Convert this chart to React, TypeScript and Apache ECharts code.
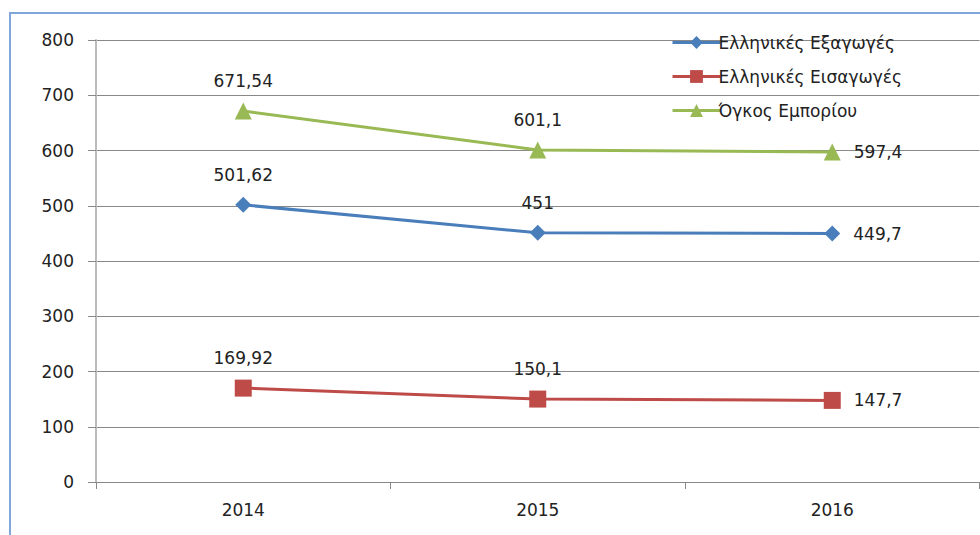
import React, { useEffect, useRef } from "react";
import * as echarts from "echarts";

const categories = ["2014", "2015", "2016"];
const exportsGR = [501.62, 451, 449.7];
const importsGR = [169.92, 150.1, 147.7];
const tradeVolume = [671.54, 601.1, 597.4];
const seriesNames = ["Ελληνικές Εξαγωγές", "Ελληνικές Εισαγωγές", "Όγκος Εμπορίου"];
const yTicks = { min: 0, max: 800, interval: 100 };

const FONT = "'DejaVu Sans', Verdana, sans-serif";
const FS = 17;
const fmt = (v: number) => String(v).replace(".", ",");

export default function App() {
  const ref = useRef<HTMLDivElement>(null);
  useEffect(() => {
    if (!ref.current) return;
    const chart = echarts.init(ref.current, undefined, { renderer: "svg" });
    const mk = (vals: number[]) =>
      vals.map((v, i) => ({
        value: v,
        label: i === vals.length - 1 ? { position: "right", distance: 13 } : { position: "top", distance: 13 },
      }));
    const common = (name: string, vals: number[], color: string, symbol: string, size: number) => ({
      name,
      type: "line",
      data: mk(vals),
      symbol,
      symbolSize: size,
      lineStyle: { color, width: 3 },
      itemStyle: { color },
      label: {
        show: true,
        formatter: (p: any) => fmt(p.value),
        color: "#222",
        fontSize: FS,
        fontFamily: FONT,
      },
    });
    chart.setOption({
      animation: false,
      backgroundColor: "#fff",
      grid: { left: 96, top: 40, right: 0.5, bottom: 53 },
      legend: {
        orient: "vertical",
        left: 666,
        top: 29,
        itemWidth: 48,
        itemHeight: 16,
        itemGap: 17,
        lineStyle: { width: 3 },
        textStyle: { fontSize: FS, fontFamily: FONT, color: "#222", padding: [0, 0, 0, -7] },
        data: seriesNames,
      },
      xAxis: {
        type: "category",
        data: categories,
        boundaryGap: true,
        axisLine: { lineStyle: { color: "#888", width: 1 } },
        axisTick: { show: true, length: 7, lineStyle: { color: "#888" } },
        axisLabel: { fontSize: FS, fontFamily: FONT, color: "#222", margin: 19 },
      },
      yAxis: {
        type: "value",
        min: yTicks.min,
        max: yTicks.max,
        interval: yTicks.interval,
        axisLine: { show: true, lineStyle: { color: "#BBB", width: 2 } },
        axisTick: { show: true, length: 8, lineStyle: { color: "#888" } },
        splitLine: { lineStyle: { color: "#888", width: 1 } },
        axisLabel: { fontSize: FS, fontFamily: FONT, color: "#222", margin: 22 },
      },
      graphic: [
        {
          type: "rect",
          shape: { x: 10, y: 13, width: 1200, height: 800 },
          style: { fill: "none", stroke: "#7FA7DA", lineWidth: 2 },
          silent: true,
        },
      ],
      series: [
        common(seriesNames[0], exportsGR, "#4A7EBB", "diamond", 16),
        common(seriesNames[1], importsGR, "#BE4B48", "rect", 17),
        common(seriesNames[2], tradeVolume, "#98B954", "triangle", 17),
      ],
    });
    return () => chart.dispose();
  }, []);
  return <div ref={ref} style={{ width: 980, height: 535, position: "absolute", left: 0, top: 0 }} />;
}
